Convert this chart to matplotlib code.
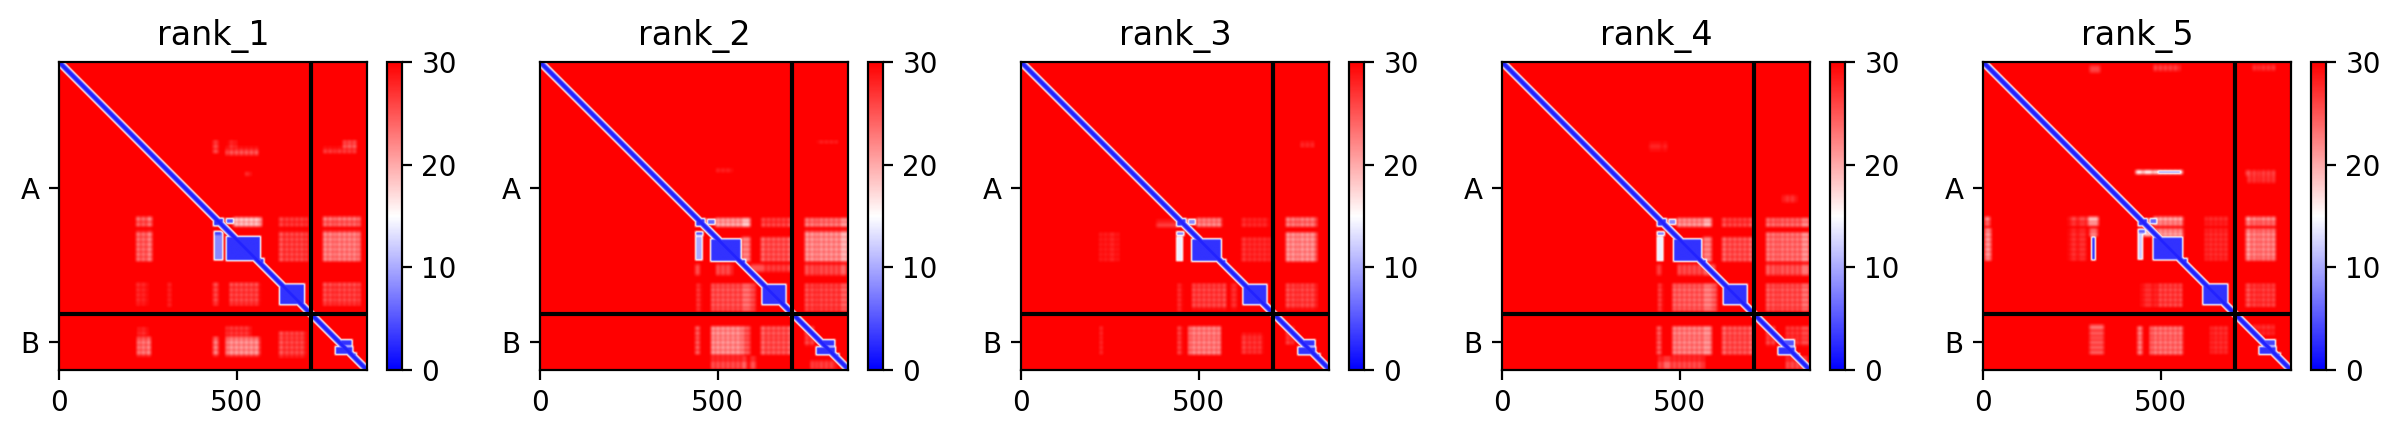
import numpy as np
import matplotlib
matplotlib.use("Agg")
import matplotlib.pyplot as plt

# Chain lengths and labels
chain_lens = [708, 159]
chain_names = ["A", "B"]
rank_names = ["rank_1", "rank_2", "rank_3", "rank_4", "rank_5"]
cbar_ticks = [0, 10, 20, 30]

# PAE next to the diagonal, one value per 3 residues away from it
diag_pae = [2, 2, 4, 9, 16, 24]

# Low-PAE domains: x0, x1, y0, y1, pae
blue_1 = [(472, 566, 492, 558, 3), (438, 460, 480, 556, 8), (436, 462, 441, 460, 3), (472, 490, 442, 453, 5),
          (438, 456, 478, 487, 4), (566, 576, 554, 568, 3), (622, 690, 626, 682, 3), (779, 826, 802, 822, 3),
          (792, 824, 783, 798, 3), (826, 836, 820, 830, 4)]
blue_2 = [(480, 563, 499, 560, 3), (438, 454, 492, 556, 10), (438, 462, 442, 461, 3), (471, 490, 444, 456, 6),
          (438, 456, 479, 487, 5), (563, 576, 557, 570, 3), (624, 689, 627, 682, 3), (776, 828, 803, 823, 3),
          (790, 826, 783, 799, 3), (828, 838, 822, 832, 4)]
blue_3 = [(480, 561, 499, 560, 3), (438, 452, 494, 558, 14), (438, 462, 442, 461, 3), (471, 488, 444, 456, 8),
          (438, 456, 479, 487, 8), (561, 574, 557, 570, 3), (624, 689, 627, 682, 3), (778, 826, 803, 823, 3),
          (792, 824, 783, 799, 3), (828, 838, 822, 832, 4)]
blue_4 = [(484, 561, 499, 560, 3), (438, 452, 494, 558, 14), (438, 462, 442, 461, 3), (471, 488, 444, 456, 8),
          (438, 456, 479, 487, 8), (561, 574, 557, 570, 3), (624, 689, 627, 682, 3), (778, 824, 803, 823, 3),
          (792, 822, 783, 799, 5), (826, 836, 822, 832, 4)]
blue_5 = [(480, 561, 494, 556, 3), (438, 448, 484, 554, 12), (438, 462, 442, 460, 3), (471, 488, 442, 454, 6),
          (438, 456, 472, 482, 6), (561, 574, 554, 568, 3), (620, 688, 626, 682, 3), (778, 824, 802, 822, 3),
          (790, 822, 783, 798, 4), (826, 836, 820, 830, 4), (307, 315, 494, 556, 3), (494, 555, 308, 312, 8)]

# Faint interdomain patches: x0, x1, y0, y1, pae
faint_1 = [(218, 262, 436, 462, 21), (218, 262, 475, 560, 20), (620, 700, 438, 462, 24), (620, 700, 475, 560, 22),
           (744, 848, 436, 462, 20), (744, 848, 475, 560, 18), (218, 250, 622, 684, 26), (306, 316, 622, 690, 27),
           (434, 448, 622, 684, 24), (480, 566, 622, 684, 22), (744, 848, 622, 684, 22), (220, 258, 775, 828, 19),
           (222, 250, 748, 770, 25), (434, 450, 775, 828, 20), (470, 566, 775, 828, 17), (470, 540, 745, 775, 24),
           (620, 695, 760, 830, 22), (434, 452, 222, 256, 24), (470, 560, 240, 262, 23), (475, 500, 222, 240, 25),
           (745, 840, 240, 256, 24), (800, 840, 222, 245, 21), (525, 540, 310, 320, 25), (490, 570, 438, 462, 14)]
faint_2 = [(492, 590, 440, 463, 16), (622, 705, 440, 463, 23), (566, 590, 490, 562, 20), (620, 705, 490, 562, 21),
           (744, 865, 440, 463, 19), (744, 865, 475, 562, 17), (436, 452, 570, 600, 25), (490, 540, 570, 600, 24),
           (590, 705, 570, 590, 25), (744, 860, 570, 600, 24), (440, 454, 625, 700, 24), (480, 590, 625, 700, 21),
           (590, 605, 625, 700, 24), (744, 865, 625, 700, 22), (436, 452, 745, 825, 22), (480, 570, 745, 825, 17),
           (570, 590, 745, 825, 23), (620, 705, 745, 825, 21), (480, 580, 830, 865, 24), (590, 605, 830, 865, 25),
           (744, 770, 745, 800, 23), (760, 830, 840, 865, 25), (778, 835, 222, 232, 26), (490, 540, 300, 310, 27)]
faint_3 = [(492, 565, 440, 463, 18), (380, 470, 445, 465, 26), (620, 695, 440, 463, 26), (620, 700, 490, 562, 25),
           (744, 830, 438, 463, 19), (744, 830, 480, 562, 17), (220, 275, 480, 562, 27), (440, 454, 625, 700, 25),
           (480, 575, 625, 695, 22), (590, 605, 625, 695, 26), (744, 830, 625, 695, 22), (440, 454, 745, 825, 23),
           (470, 560, 745, 825, 18), (620, 680, 765, 820, 24), (222, 232, 745, 825, 25), (744, 765, 745, 795, 24),
           (225, 240, 230, 244, 26), (785, 825, 225, 238, 24)]
faint_4 = [(492, 590, 440, 463, 17), (620, 705, 440, 463, 23), (566, 590, 490, 562, 20), (620, 705, 490, 562, 21),
           (744, 865, 440, 463, 20), (744, 865, 480, 562, 19), (436, 452, 570, 600, 26), (490, 600, 570, 600, 24),
           (744, 865, 570, 600, 23), (440, 454, 625, 700, 23), (480, 590, 625, 700, 20), (590, 605, 625, 700, 22),
           (744, 865, 625, 700, 21), (436, 452, 745, 825, 22), (480, 570, 745, 825, 18), (570, 590, 745, 825, 19),
           (620, 705, 745, 825, 21), (440, 570, 830, 865, 24), (744, 770, 745, 800, 23), (800, 865, 745, 800, 24),
           (800, 860, 830, 865, 24), (790, 830, 375, 395, 26), (415, 465, 225, 250, 27)]
faint_5 = [(5, 20, 436, 460, 21), (5, 23, 469, 558, 19), (240, 290, 436, 460, 25), (295, 325, 436, 460, 18),
           (240, 290, 470, 558, 26), (300, 322, 470, 490, 20), (480, 565, 436, 460, 17), (625, 690, 436, 460, 26),
           (440, 565, 470, 490, 16), (625, 690, 470, 558, 25), (740, 825, 436, 460, 19), (740, 825, 470, 558, 18),
           (430, 563, 305, 315, 13), (740, 825, 305, 320, 25), (445, 500, 625, 690, 26), (495, 560, 625, 690, 22),
           (740, 825, 625, 690, 23), (300, 340, 740, 825, 23), (435, 450, 745, 825, 20), (470, 565, 745, 825, 19),
           (640, 690, 745, 820, 25), (300, 330, 10, 30, 26), (480, 555, 8, 25, 25), (760, 825, 8, 24, 26),
           (745, 825, 305, 340, 26), (760, 820, 740, 770, 26)]

# Residues where the faint patches fade back towards red
gap_positions = [230, 244, 266, 450, 478, 492, 506, 520, 534, 548, 562, 634, 648, 662, 676, 690,
                 756, 770, 782, 796, 810, 824, 838]

blue_all = [blue_1, blue_2, blue_3, blue_4, blue_5]
faint_all = [faint_1, faint_2, faint_3, faint_4, faint_5]
n = sum(chain_lens)


def smooth(m, w=7):
    k = np.ones(w) / w
    m = np.pad(m, w, mode="edge")
    m = np.apply_along_axis(np.convolve, 0, m, k, mode="same")
    m = np.apply_along_axis(np.convolve, 1, m, k, mode="same")
    return m[w:-w, w:-w]


def make_pae(blue, faint):
    m = np.full((n, n), 30.0)
    for x0, x1, y0, y1, v in faint:
        m[y0:y1, x0:x1] = np.minimum(m[y0:y1, x0:x1], v)
    for g in gap_positions:
        m[g - 2:g + 3, :] += 8
        m[:, g - 2:g + 3] += 8
    m = smooth(np.minimum(m, 30), 11)
    # white rim first, then the domain itself
    for x0, x1, y0, y1, v in blue:
        m[y0 - 3:y1 + 3, x0 - 3:x1 + 3] = np.minimum(m[y0 - 3:y1 + 3, x0 - 3:x1 + 3], 15)
    for x0, x1, y0, y1, v in blue:
        m[y0:y1, x0:x1] = np.minimum(m[y0:y1, x0:x1], v)
    m = smooth(m, 7)
    yy, xx = np.indices((n, n))
    d = np.abs(yy - xx) // 3
    near = d < len(diag_pae)
    m[near] = np.minimum(m[near], np.array(diag_pae)[d[near]])
    return m


fig = plt.figure(figsize=(2401 / 200, 438 / 200), dpi=200)
ticks = [chain_lens[0] / 2, chain_lens[0] + chain_lens[1] / 2]

for i, name in enumerate(rank_names):
    left = 59 + 481 * i
    ax = fig.add_axes([left / 2401, (438 - 370) / 438, 308 / 2401, 308 / 438])
    im = ax.imshow(make_pae(blue_all[i], faint_all[i]), cmap="bwr", vmin=0, vmax=30, extent=(0, n, n, 0))
    ax.plot([0, n], [chain_lens[0], chain_lens[0]], color="black")
    ax.plot([chain_lens[0], chain_lens[0]], [0, n], color="black")
    ax.set_xlim(0, n)
    ax.set_ylim(n, 0)
    ax.set_xticks([0, 500])
    ax.set_yticks(ticks)
    ax.set_yticklabels(chain_names)
    ax.set_title(name)
    cax = fig.add_axes([(left + 328) / 2401, (438 - 370) / 438, 15 / 2401, 308 / 438])
    cb = fig.colorbar(im, cax=cax)
    cb.set_ticks(cbar_ticks)

plt.savefig("out.png", dpi=200)
